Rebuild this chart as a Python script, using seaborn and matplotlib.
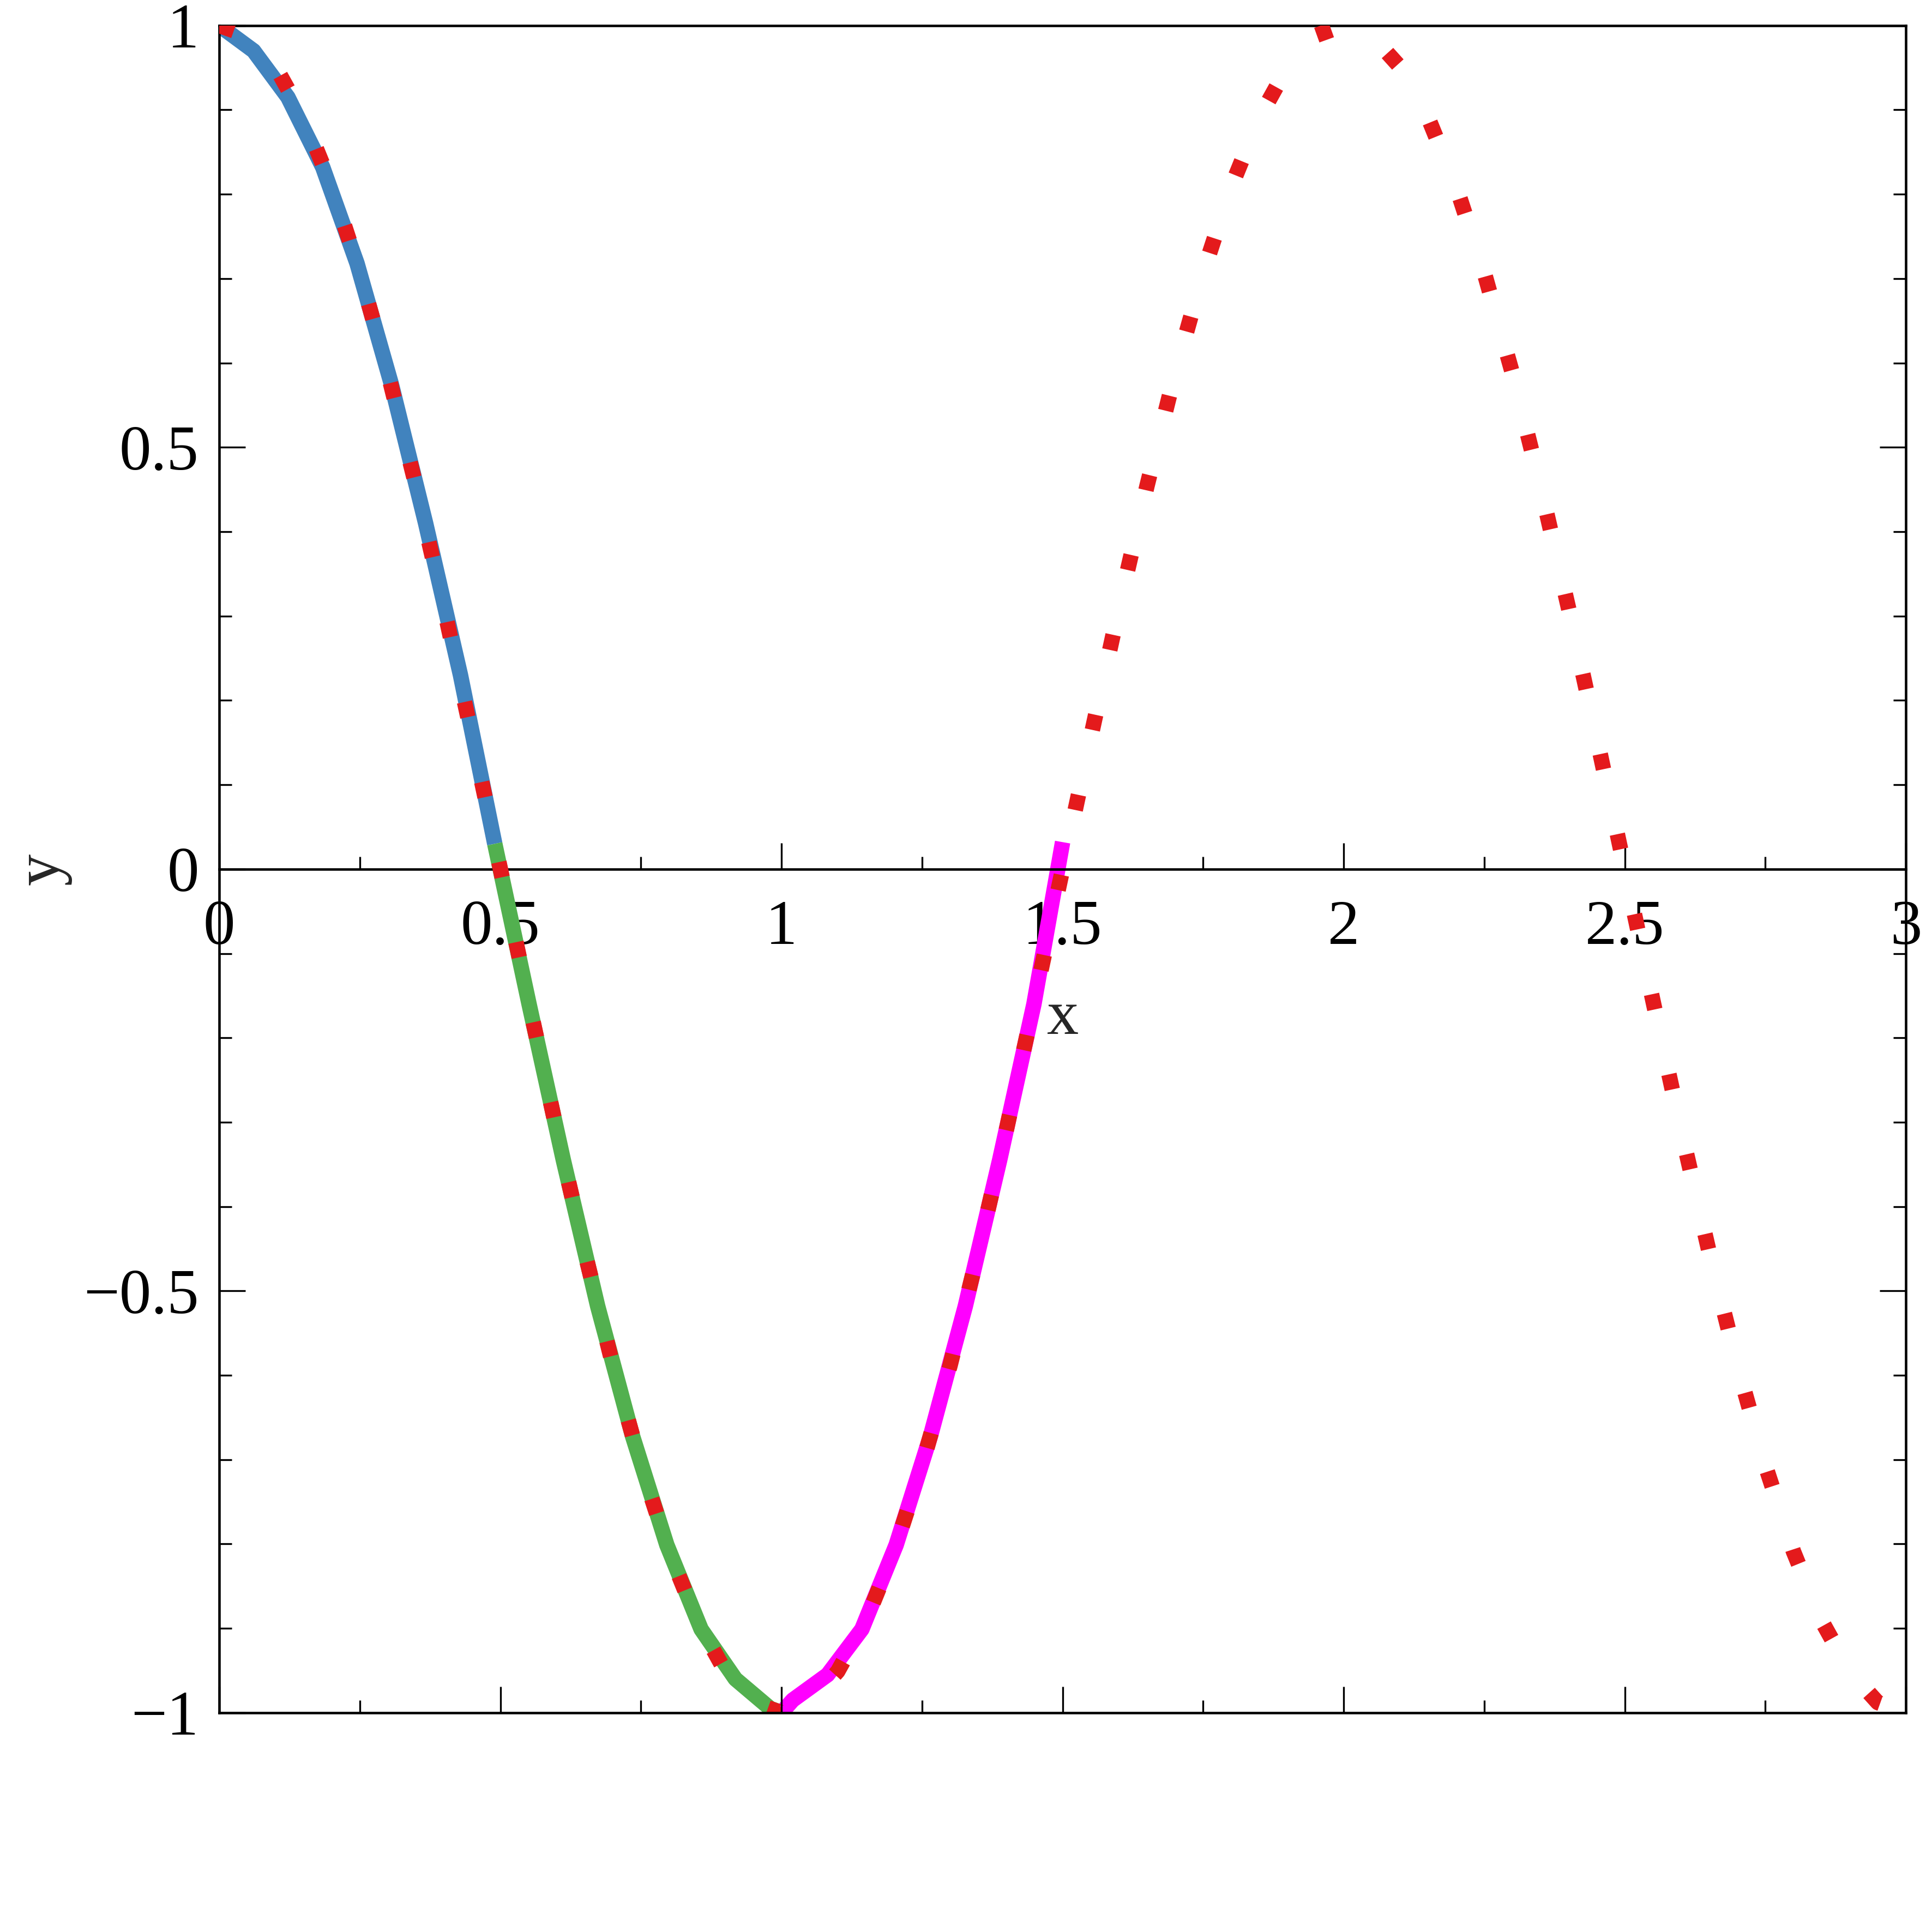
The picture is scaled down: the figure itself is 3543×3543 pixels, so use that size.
import matplotlib
matplotlib.use("Agg")
import matplotlib.pyplot as plt
import seaborn as sns
from matplotlib.ticker import FixedLocator, MultipleLocator

# Solid pieces of the approximate solution
blue_x = [0.0, 0.061, 0.122, 0.184, 0.245, 0.306, 0.367, 0.429, 0.490]
blue_y = [1.0, 0.970, 0.915, 0.832, 0.718, 0.575, 0.410, 0.230, 0.030]

green_x = [0.490, 0.551, 0.612, 0.673, 0.735, 0.796, 0.857, 0.918, 0.980, 1.0]
green_y = [0.030, -0.160, -0.345, -0.518, -0.672, -0.801, -0.901, -0.960, -0.995, -1.0]

magenta_x = [1.0, 1.020, 1.082, 1.143, 1.204, 1.265, 1.327, 1.388, 1.449, 1.500]
magenta_y = [-1.0, -0.985, -0.955, -0.901, -0.801, -0.672, -0.518, -0.345, -0.160, 0.032]

# Dotted red reference curve
red_x = [0.0, 0.05, 0.10, 0.15, 0.20, 0.25, 0.30, 0.35, 0.40, 0.45,
         0.50, 0.55, 0.60, 0.65, 0.70, 0.75, 0.80, 0.85, 0.90, 0.95,
         1.00, 1.05, 1.10, 1.15, 1.20, 1.25, 1.30, 1.35, 1.40, 1.45,
         1.50, 1.55, 1.60, 1.65, 1.70, 1.75, 1.80, 1.85, 1.90, 1.95,
         2.00, 2.05, 2.10, 2.15, 2.20, 2.25, 2.30, 2.35, 2.40, 2.45,
         2.50, 2.55, 2.60, 2.65, 2.70, 2.75, 2.80, 2.85, 2.90, 2.95, 3.00]
red_y = [1.0, 0.988, 0.951, 0.891, 0.809, 0.707, 0.588, 0.454, 0.309, 0.156,
         0.0, -0.156, -0.309, -0.454, -0.588, -0.707, -0.809, -0.891, -0.951, -0.988,
         -1.0, -0.988, -0.951, -0.891, -0.809, -0.707, -0.588, -0.454, -0.309, -0.156,
         0.0, 0.156, 0.309, 0.454, 0.588, 0.707, 0.809, 0.891, 0.951, 0.988,
         1.0, 0.988, 0.951, 0.891, 0.809, 0.707, 0.588, 0.454, 0.309, 0.156,
         0.0, -0.156, -0.309, -0.454, -0.588, -0.707, -0.809, -0.891, -0.951, -0.988, -1.0]

x_ticks = [0, 0.5, 1, 1.5, 2, 2.5, 3]
x_tick_labels = ['0', '0.5', '1', '1.5', '2', '2.5', '3']
y_ticks = [-1, -0.5, 0, 0.5, 1]
y_tick_labels = ['\u22121', '\u22120.5', '0', '0.5', '1']

sns.set_theme(style="white")
plt.rcParams['font.family'] = ['Liberation Serif', 'DejaVu Serif']
plt.rcParams['lines.solid_capstyle'] = 'butt'
plt.rcParams['lines.dash_capstyle'] = 'butt'

fig = plt.figure(figsize=(3543 / 300, 3543 / 300), dpi=300)
fig.patch.set_facecolor('white')
rect = [0.1135, 0.1135, 0.873, 0.8733]
ax = fig.add_axes(rect)

lw = 6.8
sns.lineplot(x=blue_x, y=blue_y, color='#4183BE', linewidth=lw, sort=False, estimator=None, ax=ax)
sns.lineplot(x=green_x, y=green_y, color='#52B04F', linewidth=lw, sort=False, estimator=None, ax=ax)
sns.lineplot(x=magenta_x, y=magenta_y, color='#FF00FF', linewidth=lw, sort=False, estimator=None, ax=ax)
sns.lineplot(x=red_x, y=red_y, color='#E41A1C', linewidth=lw, linestyle=(0, (1, 4.3)),
             sort=False, estimator=None, ax=ax, zorder=3)

ax.set_xlim(0, 3)
ax.set_ylim(-1, 1)

# axes box: left edge and a horizontal axis through y = 0
ax.spines['bottom'].set_position(('data', 0))
for s in ax.spines.values():
    s.set_color('black')
    s.set_linewidth(1.1)
    s.set_visible(True)

ax.xaxis.set_major_locator(FixedLocator(x_ticks))
ax.set_xticklabels(x_tick_labels)
ax.xaxis.set_minor_locator(MultipleLocator(0.25))
ax.yaxis.set_major_locator(FixedLocator(y_ticks))
ax.set_yticklabels(y_tick_labels)
ax.yaxis.set_minor_locator(MultipleLocator(0.1))

ax.tick_params(which='both', direction='in', bottom=True, left=True, right=True, top=False,
               colors='black', width=0.8, labelsize=28)
ax.tick_params(which='major', length=11.5)
ax.tick_params(which='minor', length=5.5)
ax.tick_params(axis='x', which='both', pad=13.5)
ax.tick_params(axis='y', which='both', pad=9)

ax.set_xlabel('x', fontsize=28)
ax.xaxis.set_label_coords(0.5, 0.4286)
ax.set_ylabel('y', fontsize=28)
ax.yaxis.set_label_coords(-0.0876, 0.5)

# second, transparent axes for the lower frame line with its own ticks
ax2 = fig.add_axes(rect, sharex=ax)
ax2.patch.set_visible(False)
for side in ['top', 'left', 'right']:
    ax2.spines[side].set_visible(False)
ax2.spines['bottom'].set_color('black')
ax2.spines['bottom'].set_linewidth(1.1)
ax2.set_yticks([])
ax2.tick_params(which='both', direction='in', bottom=True, labelbottom=False, left=False,
                colors='black', width=0.8)
ax2.tick_params(which='major', length=11.5)
ax2.tick_params(which='minor', length=5.5)
ax2.grid(False)

fig.savefig('out.png', dpi=300, facecolor='white')
